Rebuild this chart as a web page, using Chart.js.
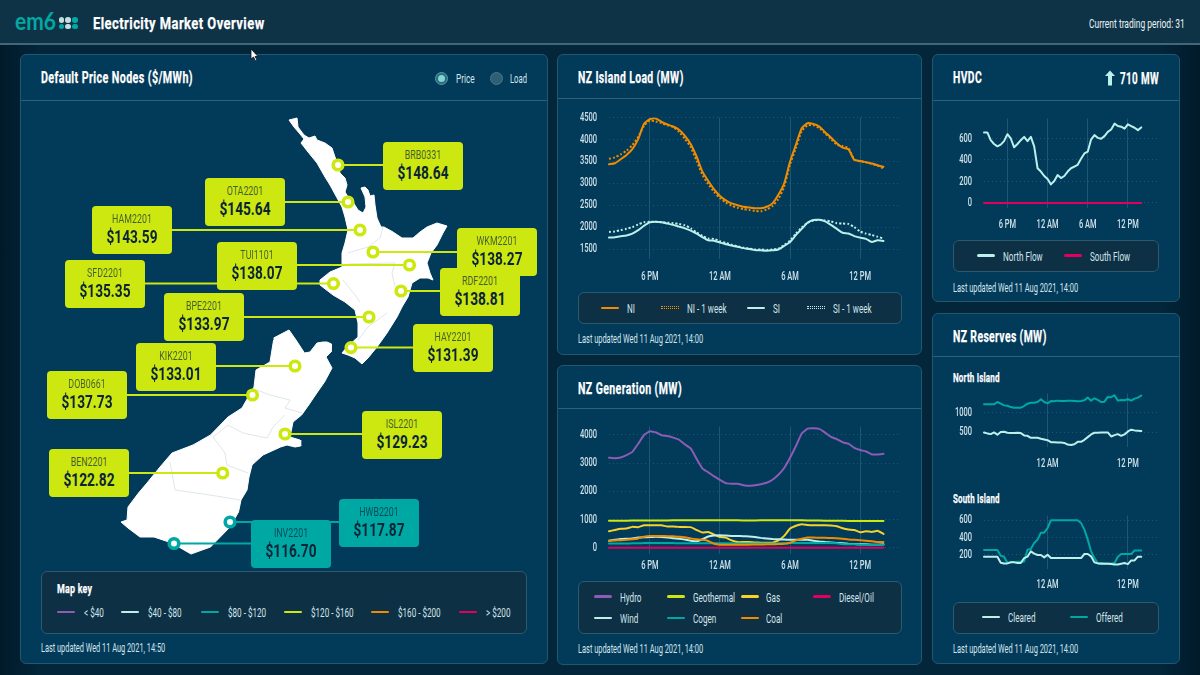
<!DOCTYPE html>
<html lang="en">
<head>
<meta charset="UTF-8">
<title>Electricity Market Overview</title>
<script src="https://cdn.jsdelivr.net/npm/chart.js"></script>
<style>
  html, body { margin: 0; padding: 0; width: 1200px; height: 675px; overflow: hidden; }
  body { background: linear-gradient(90deg, #011a29 0, #03263a 40px, #03263a 1160px, #011a29 1200px); color: #e4f1f4;
         font-family: Roboto, sans-serif; position: relative; }
  .abs { position: absolute; white-space: nowrap; }
  .header { left: 0; top: 0; width: 1200px; height: 43px; background: #0e3347; border-bottom: 2px solid #41687a; }
  .card { background: #023a5a; border: 1px solid #23566f; border-radius: 6px; box-sizing: border-box; }
  .rule { background: #2f6078; height: 1px; }
  .legend { background: #0d3045; border: 1px solid #2b5a70; border-radius: 6px; box-sizing: border-box; }
  .title { font-weight: bold; font-size: 16px; letter-spacing: .6px; color: #fff; line-height: 20px; -webkit-text-stroke: .25px #fff; }
  .text { font-size: 13.5px; line-height: 16px; color: #d3e5ea; transform-origin: left center; }
  .swatch { height: 2.5px; border-radius: 2px; width: 18px; }
  .node { width: 80px; height: 48px; border-radius: 4px; text-align: center; color: #0a2438; }
  .node .nm { font-size: 13px; line-height: 14px; margin-top: 6px; opacity: .7; transform: scaleX(.68); }
  .node .pr { font-size: 19px; line-height: 22px; font-weight: bold; transform: scaleX(.72); }
  canvas { position: absolute; }
</style>
</head>
<body>
<script>
// half hour trading periods, the tail is empty room on the axis
const periods = ['2:30 PM','3 PM','3:30 PM','4 PM','4:30 PM','5 PM','5:30 PM','6 PM','6:30 PM','7 PM','7:30 PM','8 PM',
  '8:30 PM','9 PM','9:30 PM','10 PM','10:30 PM','11 PM','11:30 PM','12 AM','12:30 AM','1 AM','1:30 AM','2 AM',
  '2:30 AM','3 AM','3:30 AM','4 AM','4:30 AM','5 AM','5:30 AM','6 AM','6:30 AM','7 AM','7:30 AM','8 AM',
  '8:30 AM','9 AM','9:30 AM','10 AM','10:30 AM','11 AM','11:30 AM','12 PM','12:30 PM','1 PM','1:30 PM','2 PM',
  '2:30 PM ','3 PM ','3:30 PM ','4 PM ','4:30 PM '];
const xTicksAll = ['6 PM', '12 AM', '6 AM', '12 PM'];
const xTicksNoon = ['12 AM', '12 PM'];

const loadTicks = [1500, 2000, 2500, 3000, 3500, 4000, 4500];
const loadNI = [3434,3457,3548,3647,3777,4005,4355,4460,4477,4400,4340,4295,
  4220,4080,3890,3610,3265,3050,2860,2710,2610,2540,2500,2465,
  2445,2430,2430,2465,2540,2735,3000,3495,3875,4255,4370,4350,
  4295,4165,4045,3915,3815,3775,3535,3510,3480,3450,3410,3375];
const loadNIWeek = [3560,3590,3660,3740,3870,4060,4310,4430,4410,4370,4320,4280,
  4170,4010,3820,3510,3190,2980,2800,2660,2560,2490,2440,2410,
  2390,2370,2360,2400,2480,2640,2920,3430,3800,4190,4320,4320,
  4260,4140,4010,3880,3850,3800,3540,3500,3480,3440,3400,3340];
const loadSI = [1760,1770,1790,1810,1850,1930,2030,2110,2120,2110,2080,2050,
  2010,1970,1920,1850,1770,1700,1690,1650,1610,1580,1550,1520,
  1500,1480,1470,1460,1470,1490,1570,1660,1820,1960,2100,2160,
  2165,2130,2050,1960,1870,1855,1795,1760,1730,1660,1700,1685];
const loadSIWeek = [1890,1900,1930,1960,2000,2060,2110,2120,2120,2110,2100,2090,
  2070,2040,1970,1880,1800,1740,1730,1680,1640,1600,1560,1530,
  1510,1490,1490,1480,1490,1510,1590,1690,1850,1990,2100,2150,
  2160,2150,2130,2090,2080,2070,2000,1900,1850,1820,1780,1740];

const genTicks = [0, 1000, 2000, 3000, 4000];
const genHydro = [3190,3175,3200,3285,3400,3690,4000,4130,4095,3990,3965,3905,
  3830,3665,3520,3150,2805,2675,2530,2410,2290,2270,2270,2220,
  2195,2220,2255,2305,2410,2590,2830,3190,3605,4050,4225,4240,
  4215,4085,3930,3855,3740,3690,3545,3465,3415,3310,3310,3330];
const genGeothermal = [960,960,960,960,965,965,970,970,970,970,970,975,
  975,975,975,975,975,975,975,975,975,975,975,970,
  970,970,975,975,975,975,975,975,975,975,970,970,
  965,960,955,955,955,950,950,950,945,945,945,945];
const genGas = [585,630,670,680,740,730,800,800,800,800,750,750,
  740,740,730,630,540,560,465,380,360,260,200,200,
  200,190,180,180,180,260,420,680,780,835,810,800,
  800,800,790,765,690,645,630,550,585,560,600,490];
const genDiesel = [0,0,0,0,0,0,0,0,0,0,0,0,
  0,0,0,0,0,0,0,0,0,0,0,0,
  0,0,0,0,0,0,0,0,0,0,0,0,
  0,0,0,0,0,0,0,0,0,0,0,0];
const genWind = [250,280,310,320,330,360,370,380,390,380,360,340,
  320,290,250,230,300,400,430,440,430,420,420,410,
  400,380,350,330,310,300,290,280,280,280,280,250,
  220,200,190,170,160,140,130,120,120,110,110,120];
const genCogen = [150,150,150,150,155,160,165,170,170,170,165,165,
  160,160,160,160,160,160,160,160,155,155,150,150,
  150,150,150,150,150,155,160,165,170,170,170,170,
  170,170,165,160,130,120,120,110,105,100,100,110];
const genCoal = [250,260,270,280,300,330,390,420,420,420,410,410,
  390,370,330,300,280,240,140,110,110,110,110,110,
  110,115,115,120,125,130,140,180,260,320,365,360,
  350,350,345,340,320,290,280,270,250,230,200,205];

const hvdcTicks = [0, 200, 400, 600];
const hvdcNorth = [656,656,584,549,527,543,575,640,600,518,549,584,
  615,575,615,527,323,292,251,223,173,204,260,232,
  251,292,323,339,355,411,461,477,590,631,606,597,
  622,662,684,738,716,710,691,732,716,700,678,703];
const hvdcSouth = [0,0,0,0,0,0,0,0,0,0,0,0,
  0,0,0,0,0,0,0,0,0,0,0,0,
  0,0,0,0,0,0,0,0,0,0,0,0,
  0,0,0,0,0,0,0,0,0,0,0,0];

const resNorthTicks = [500, 1000];
const resNorthCleared = [491,466,448,491,431,500,509,483,474,474,483,474,
  414,405,353,353,353,328,310,293,241,241,233,233,
  224,181,172,190,250,250,302,371,440,483,483,491,
  491,491,388,422,448,405,440,517,560,543,534,526];
const resNorthOffered = [1207,1207,1207,1207,1267,1224,1181,1172,1138,1121,1121,1121,
  1164,1224,1250,1250,1267,1336,1267,1233,1293,1284,1302,1293,
  1293,1302,1302,1293,1284,1293,1310,1379,1302,1362,1319,1267,
  1276,1396,1388,1440,1302,1319,1310,1336,1302,1353,1379,1431];
const resSouthTicks = [200, 400, 600];
const resSouthCleared = [177,177,177,177,177,107,99,99,111,111,103,103,
  161,177,239,212,196,196,169,200,161,161,161,161,
  161,161,161,161,161,161,208,208,181,111,99,95,
  95,95,91,87,87,95,103,91,134,134,177,177];
const resSouthOffered = [254,254,254,254,254,188,177,103,115,115,119,119,
  122,258,266,336,375,456,456,510,600,600,600,600,
  600,600,600,600,600,569,491,375,239,161,103,103,
  99,99,99,103,177,208,208,208,208,250,250,250];

const nodeNames = ['BRB0331','OTA2201','HAM2201','SFD2201','TUI1101','RDF2201','WKM2201','BPE2201','HAY2201','KIK2201','DOB0661','ISL2201','BEN2201','HWB2201','INV2201'];
const nodePrices = [148.64,145.64,143.59,135.35,138.07,138.81,138.27,133.97,131.39,133.01,137.73,129.23,122.82,117.87,116.70];
const nodeLon = [338,348,360,333.5,409.5,401,373,369,351,295,252.5,285,222.7,230,174];
const nodeLat = [165,202,230,283.6,265,291,252,317,347.6,366,395,434,473,522,543.5];

const northIsland = [[289,120],[293,119],[297,118],[298,127],[304,135],[309,138],[315,136],[317,140],[325,143],[332,148],[335,157],[338,165],[340,173],[345,178],[347,185],[345,192],[348,197],[353,202],[358,210],[363,213],[366,207],[365,197],[361,188],[365,187],[368,190],[370,196],[374,195],[375,205],[377,218],[381,227],[384,227],[393,232],[402,238],[413,238],[420,232],[427,227],[437,223],[447,226],[443,233],[437,245],[431,253],[427,263],[430,273],[433,280],[428,278],[420,278],[412,283],[408,297],[402,307],[397,317],[387,333],[377,347],[368,358],[362,364],[355,358],[348,355],[342,353],[347,347],[358,337],[358,323],[355,310],[345,302],[333,295],[320,285],[320,280],[330,272],[342,267],[342,253],[345,243],[348,230],[345,217],[342,207],[330,185],[325,177],[317,163],[308,152],[301,143],[304,139],[300,134],[294,127],[289,120]];
const southIsland = [[273.6,338],[289,330],[296,340],[304.5,353],[310,352],[317,343],[323,342],[327,342],[331.5,344],[331,352],[326,357],[332,368],[324.5,382],[317.5,392],[308.7,405],[301.6,415],[293,422],[290,437],[300,440],[300.7,446],[295,447],[287,445],[280.6,447],[263,455],[252,465],[249,477],[247,490],[241,500],[238.5,512],[230,527],[210.5,547],[191,554],[172,543],[154,537],[140,537],[128,528],[121,522],[127,520],[128,507],[138.5,493],[147,483],[160,467],[172,453],[193,445],[210.5,435],[228,417],[242,408],[254,387],[256,370],[270,362],[273.6,340]];
const regionLines = [
  [[383,227],[380,238],[368,247],[348,253]],
  [[348,264],[395,263],[392,273],[395,287]],
  [[343,280],[355,295],[360,302]],
  [[387,313],[368,327],[358,340]],
  [[257,390],[270,395],[290,400],[285,408],[302,413]],
  [[213,437],[228,425],[243,433],[267,438],[273,427],[285,415]],
  [[213,437],[225,453],[227,465],[248,473]],
  [[170,462],[175,490],[210,495],[240,500]]
];

const C = { purple: '#8e5bb5', light: '#bdf0ea', teal: '#00a8a4', lime: '#cde810', yellow: '#f7d229', orange: '#f08c00', pink: '#e0005e', grid: '#1c5874', tick: '#cfe1e8' };
const TICK_FONT = { family: 'Roboto', size: 12.5, weight: '500' };
const TEXT_SQUEEZE = 0.6;

// where each node label sits on the page
const nodeBoxes = {
  BRB0331: [383, 141.5], OTA2201: [205, 178], HAM2201: [91.5, 206], SFD2201: [65, 260], TUI1101: [217, 241.5],
  RDF2201: [440, 267.5], WKM2201: [456.5, 228], BPE2201: [164, 293], HAY2201: [412.5, 324], KIK2201: [136, 342.5],
  DOB0661: [46.5, 371], ISL2201: [361.5, 410.5], BEN2201: [48.5, 449], HWB2201: [338.5, 498.5], INV2201: [251, 519.5]
};

// no condensed face is installed, so canvas text gets squeezed with fillText's maxWidth
const narrowText = {
  id: 'narrowText',
  beforeInit(chart) {
    const ctx = chart.ctx;
    const orig = ctx.fillText.bind(ctx);
    ctx.fillText = (s, x, y) => orig(s, x, y, ctx.measureText(s).width * TEXT_SQUEEZE);
  }
};

function el(cls, left, top, w, h, html, extra) {
  const d = document.createElement('div');
  d.className = 'abs ' + cls;
  d.style.left = left + 'px';
  d.style.top = top + 'px';
  if (w != null) d.style.width = w + 'px';
  if (h != null) d.style.height = h + 'px';
  if (html != null) d.innerHTML = html;
  if (extra) Object.assign(d.style, extra);
  document.body.appendChild(d);
  return d;
}

// squeeze a text element to the width it has in the picture
function fit(d, w) {
  d.style.transformOrigin = 'left center';
  d.style.transform = 'scaleX(' + (w / d.offsetWidth) + ')';
  return d;
}

function card(x1, y1, x2, y2, ruleY, title, titleW) {
  el('card', x1, y1, x2 - x1, y2 - y1);
  el('rule', x1 + 1, ruleY, x2 - x1 - 2);
  fit(el('title', x1 + 21, y1 + 14, null, null, title), titleW);
}

// small text centred on a y position
function label(x, y, s, w) {
  const d = el('text', x, y - 8, null, null, s);
  if (w) fit(d, w);
  else d.style.transform = 'scaleX(' + TEXT_SQUEEZE + ')';
  return d;
}

function swatch(x, y, color, dotted) {
  if (dotted) {
    el('', x, y - 2, 18, 1, '', { borderTop: '1.5px dotted ' + color, borderBottom: '1.5px dotted ' + color });
  } else {
    el('swatch', x, y - 1.25, 18, null, '', { background: color });
  }
}

function lineChart(plot, labels, xTicks, yMin, yMax, yTicks, datasets, xPad) {
  const padL = 52, padT = 14, padR = 14, padB = 30;
  const canvas = document.createElement('canvas');
  const top = Math.round(plot.t) - padT;
  const w = Math.round(plot.r - plot.l) + padL + padR;
  const h = Math.round(plot.b) + padB - top;
  canvas.style.left = (plot.l - padL) + 'px';
  canvas.style.top = top + 'px';
  document.body.appendChild(canvas);
  canvas.width = w;
  canvas.height = h;
  canvas.style.width = w + 'px';
  canvas.style.height = h + 'px';
  const chart = new Chart(canvas, {
    type: 'line',
    plugins: [narrowText],
    data: {
      labels: labels,
      datasets: datasets.map((d) => ({
        data: d.data, borderColor: d.color, borderWidth: d.width || 2, borderDash: d.dash, tension: d.tension || 0,
        pointRadius: 0, fill: false, borderCapStyle: d.dash ? 'butt' : 'round', borderJoinStyle: 'round'
      }))
    },
    options: {
      responsive: false,
      maintainAspectRatio: false,
      animation: false,
      layout: { autoPadding: false, padding: { top: padT, right: padR } },
      plugins: { legend: { display: false }, tooltip: { enabled: false } },
      scales: {
        x: {
          afterBuildTicks: (a) => { a.ticks = a.ticks.filter((t) => xTicks.includes(labels[t.value])); },
          afterFit: (a) => { a.height = padB; },
          grid: { color: C.grid, lineWidth: 1, drawTicks: false },
          border: { display: false },
          ticks: { autoSkip: false, maxRotation: 0, color: C.tick, padding: xPad, font: TICK_FONT }
        },
        y: {
          min: yMin,
          max: yMax,
          afterBuildTicks: (a) => { a.ticks = yTicks.map((v) => ({ value: v })); },
          afterFit: (a) => { a.width = padL; },
          grid: { color: C.grid, lineWidth: 1, drawTicks: false },
          border: { display: false, dash: [1, 3] },
          ticks: { color: C.tick, padding: 12, font: TICK_FONT, callback: (v) => String(v) }
        }
      }
    }
  });
  // layout keeps some extra room above the plot, grow the canvas upward to take it back
  const extra = Math.round(chart.chartArea.top - padT);
  if (extra > 0) {
    canvas.style.top = (top - extra) + 'px';
    chart.resize(w, h + extra);
  }
  return chart;
}

// page frame
el('header', 0, 0);
fit(el('', 15, 6, null, null, 'em6', { color: '#04a8a3', fontFamily: 'Lato, sans-serif', fontWeight: 'bold', fontSize: '24px', lineHeight: '30px' }), 41);
[[58.5, 17], [65, 17], [72, 17], [58.5, 23.5], [65, 23.5], [72, 23.5]].forEach((p, i) => {
  el('', p[0], p[1], 5.5, 5.5, '', { borderRadius: '50%', background: i === 2 || i === 3 || i === 5 ? '#04a8a3' : '#c4dfe0' });
});
fit(el('title', 93, 13, null, null, 'Electricity Market Overview', { fontSize: '17px' }), 172);
fit(el('text', 1089, 15, null, null, 'Current trading period: 31', { color: '#e8f3f6' }), 96);

card(20, 54, 548, 664, 100, 'Default Price Nodes ($/MWh)', 152);
card(557, 54, 922, 355, 98, 'NZ Island Load (MW)', 106);
card(557, 365, 922, 665, 408, 'NZ Generation (MW)', 104);
card(932, 54, 1180, 302, 100, 'HVDC', 29);
card(932, 313, 1180, 664, 356, 'NZ Reserves (MW)', 94);

// radios
el('', 435, 71.5, 13, 13, '', { borderRadius: '50%', background: '#2a6a80', border: '1px solid #5f98a6', boxSizing: 'border-box' });
el('', 438, 74.5, 7, 7, '', { borderRadius: '50%', background: '#7fd6cb' });
el('', 490, 71.5, 13, 13, '', { borderRadius: '50%', background: '#2f5f75', border: '1px solid #47788c', boxSizing: 'border-box' });
label(455.6, 78, 'Price', 19);
label(509.6, 78, 'Load', 17);

// hvdc flow readout
el('', 1103, 70, 14, 16, '<svg width="14" height="16" viewBox="0 0 14 16"><path d="M7 0.5 L12 6 L9 6 L9 15.5 L5 15.5 L5 6 L2 6 Z" fill="#bdf0ea"/></svg>');
fit(el('title', 1120, 68, null, null, '710 MW', { fontSize: '17px' }), 39);

// legends
el('legend', 41, 571, 486, 62.5);
el('legend', 578, 292, 324, 32);
el('legend', 578, 581, 324, 53);
el('legend', 953, 240, 206, 32);
el('legend', 953, 602, 206, 31.5);

fit(el('title', 56.5, 579, null, null, 'Map key', { fontSize: '13px', letterSpacing: '.3px' }), 35);
[[56.5, 83.5, '&lt; $40', C.purple], [120.6, 148, '$40 - $80', C.light], [200.6, 227.6, '$80 - $120', C.teal],
 [284, 311, '$120 - $160', C.lime], [371, 398, '$160 - $200', C.orange], [459, 486, '&gt; $200', C.pink]].forEach((k) => {
  swatch(k[0], 612, k[3]);
  label(k[1], 612, k[2]);
});

[[600.7, 626.7, 'NI', C.orange, false], [660.7, 686.7, 'NI - 1 week', C.orange, true],
 [747, 773, 'SI', C.light, false], [807, 833, 'SI - 1 week', C.light, true]].forEach((k) => {
  swatch(k[0], 308, k[3], k[4]);
  label(k[1], 308, k[2]);
});
[[594, 620, 596.7, 'Hydro', C.purple], [667, 692.7, 596.7, 'Geothermal', C.lime], [740.7, 766, 596.7, 'Gas', C.yellow], [813, 839, 596.7, 'Diesel/Oil', C.pink],
 [594, 620, 618, 'Wind', C.light], [667, 692.7, 618, 'Cogen', C.teal], [740.7, 766, 618, 'Coal', C.orange]].forEach((k) => {
  swatch(k[0], k[2], k[4]);
  label(k[1], k[2], k[3]);
});
[[977, 1002.7, 'North Flow', C.light], [1063.7, 1090, 'South Flow', C.pink]].forEach((k) => {
  swatch(k[0], 255.7, k[3]);
  label(k[1], 255.7, k[2]);
});
[[982, 1008, 'Cleared', C.light], [1070, 1096, 'Offered', C.teal]].forEach((k) => {
  swatch(k[0], 617, k[3]);
  label(k[1], 617, k[2]);
});

label(41, 647, 'Last updated Wed 11 Aug 2021, 14:50', 124);
label(578, 338, 'Last updated Wed 11 Aug 2021, 14:00', 125);
label(578, 648, 'Last updated Wed 11 Aug 2021, 14:00', 125);
label(953, 287, 'Last updated Wed 11 Aug 2021, 14:00', 125);
label(953, 648, 'Last updated Wed 11 Aug 2021, 14:00', 125);

fit(el('title', 953, 368, null, null, 'North Island', { fontSize: '13px', letterSpacing: '.3px' }), 47);
fit(el('title', 953, 489, null, null, 'South Island', { fontSize: '13px', letterSpacing: '.3px' }), 47);

// line charts
const midLabels = periods.slice(0, 51);
lineChart({ l: 609, t: 117.7, r: 901, b: 259 }, midLabels, xTicksAll, 1272, 4500, loadTicks, [
  { data: loadNI, color: C.orange, tension: 0.2 },
  { data: loadNIWeek, color: C.orange, dash: [2, 2], tension: 0.2 },
  { data: loadSI, color: C.light, tension: 0.2 },
  { data: loadSIWeek, color: C.light, dash: [2, 2], tension: 0.2 }
], 10);
lineChart({ l: 609, t: 427.3, r: 901, b: 553.5 }, midLabels, xTicksAll, -222, 4300, genTicks, [
  { data: genDiesel, color: C.pink },
  { data: genCoal, color: C.orange, tension: 0.1 },
  { data: genCogen, color: C.teal, tension: 0.1 },
  { data: genWind, color: C.light, tension: 0.1 },
  { data: genGas, color: C.yellow, tension: 0.1 },
  { data: genGeothermal, color: C.lime },
  { data: genHydro, color: C.purple, tension: 0.1 }
], 4);
lineChart({ l: 984.3, t: 119.3, r: 1158.3, b: 207.7 }, periods, xTicksAll, -47, 786, hvdcTicks, [
  { data: hvdcSouth, color: C.pink },
  { data: hvdcNorth, color: C.light }
], 9);
lineChart({ l: 984.3, t: 394.3, r: 1158.3, b: 447 }, periods, xTicksNoon, 119, 1484, resNorthTicks, [
  { data: resNorthCleared, color: C.light },
  { data: resNorthOffered, color: C.teal }
], 9);
lineChart({ l: 984.3, t: 516, r: 1158.3, b: 569.3 }, periods, xTicksNoon, 34, 655, resSouthTicks, [
  { data: resSouthCleared, color: C.light },
  { data: resSouthOffered, color: C.teal }
], 8);

// map: page pixels double as map units so outline and nodes share one scale
const mapCanvas = document.createElement('canvas');
mapCanvas.width = 526;
mapCanvas.height = 470;
mapCanvas.style.left = '21px';
mapCanvas.style.top = '101px';
mapCanvas.style.width = '526px';
mapCanvas.style.height = '470px';
document.body.appendChild(mapCanvas);

const toXY = (line) => line.map((p) => ({ x: p[0], y: p[1] }));
const nodeColor = (price) => (price < 120 ? C.teal : C.lime);
const mapSets = [];
mapSets.push({
  data: nodeLon.map((x, i) => ({ x: x, y: nodeLat[i] })),
  showLine: false,
  pointRadius: 4.8,
  pointBorderWidth: 3.6,
  pointBackgroundColor: '#ffffff',
  pointBorderColor: nodePrices.map(nodeColor)
});
nodeNames.forEach((name, i) => {
  const box = nodeBoxes[name];
  mapSets.push({
    data: [{ x: nodeLon[i], y: nodeLat[i] }, { x: box[0] + 40, y: nodeLat[i] }],
    showLine: true,
    borderColor: nodeColor(nodePrices[i]),
    borderWidth: 2,
    pointRadius: 0
  });
});
regionLines.forEach((line) => {
  mapSets.push({ data: toXY(line), showLine: true, borderColor: '#dfe7ec', borderWidth: 1, pointRadius: 0 });
});
[northIsland, southIsland].forEach((shape) => {
  mapSets.push({ data: toXY(shape), showLine: true, fill: 'shape', backgroundColor: '#ffffff', borderColor: '#ffffff', borderWidth: 1, pointRadius: 0 });
});

new Chart(mapCanvas, {
  type: 'scatter',
  data: { datasets: mapSets },
  options: {
    responsive: false,
    maintainAspectRatio: false,
    animation: false,
    layout: { autoPadding: false, padding: 0 },
    plugins: { legend: { display: false }, tooltip: { enabled: false } },
    scales: {
      x: { type: 'linear', display: false, min: 21, max: 547 },
      y: { type: 'linear', display: false, min: 101, max: 571, reverse: true }
    }
  }
});

// node labels over the map
nodeNames.forEach((name, i) => {
  const box = nodeBoxes[name];
  el('node', box[0], box[1], null, null, '<div class="nm">' + name + '</div><div class="pr">$' + nodePrices[i].toFixed(2) + '</div>', { background: nodeColor(nodePrices[i]) });
});

// mouse pointer caught in the capture
el('', 250, 47, 10, 14, '<svg width="10" height="14" viewBox="0 0 10 14"><path d="M1 1 L1 11 L3.5 9 L5.5 13 L7 12 L5 8.5 L8 8.5 Z" fill="#fff" stroke="#111" stroke-width=".8"/></svg>');
</script>
</body>
</html>
